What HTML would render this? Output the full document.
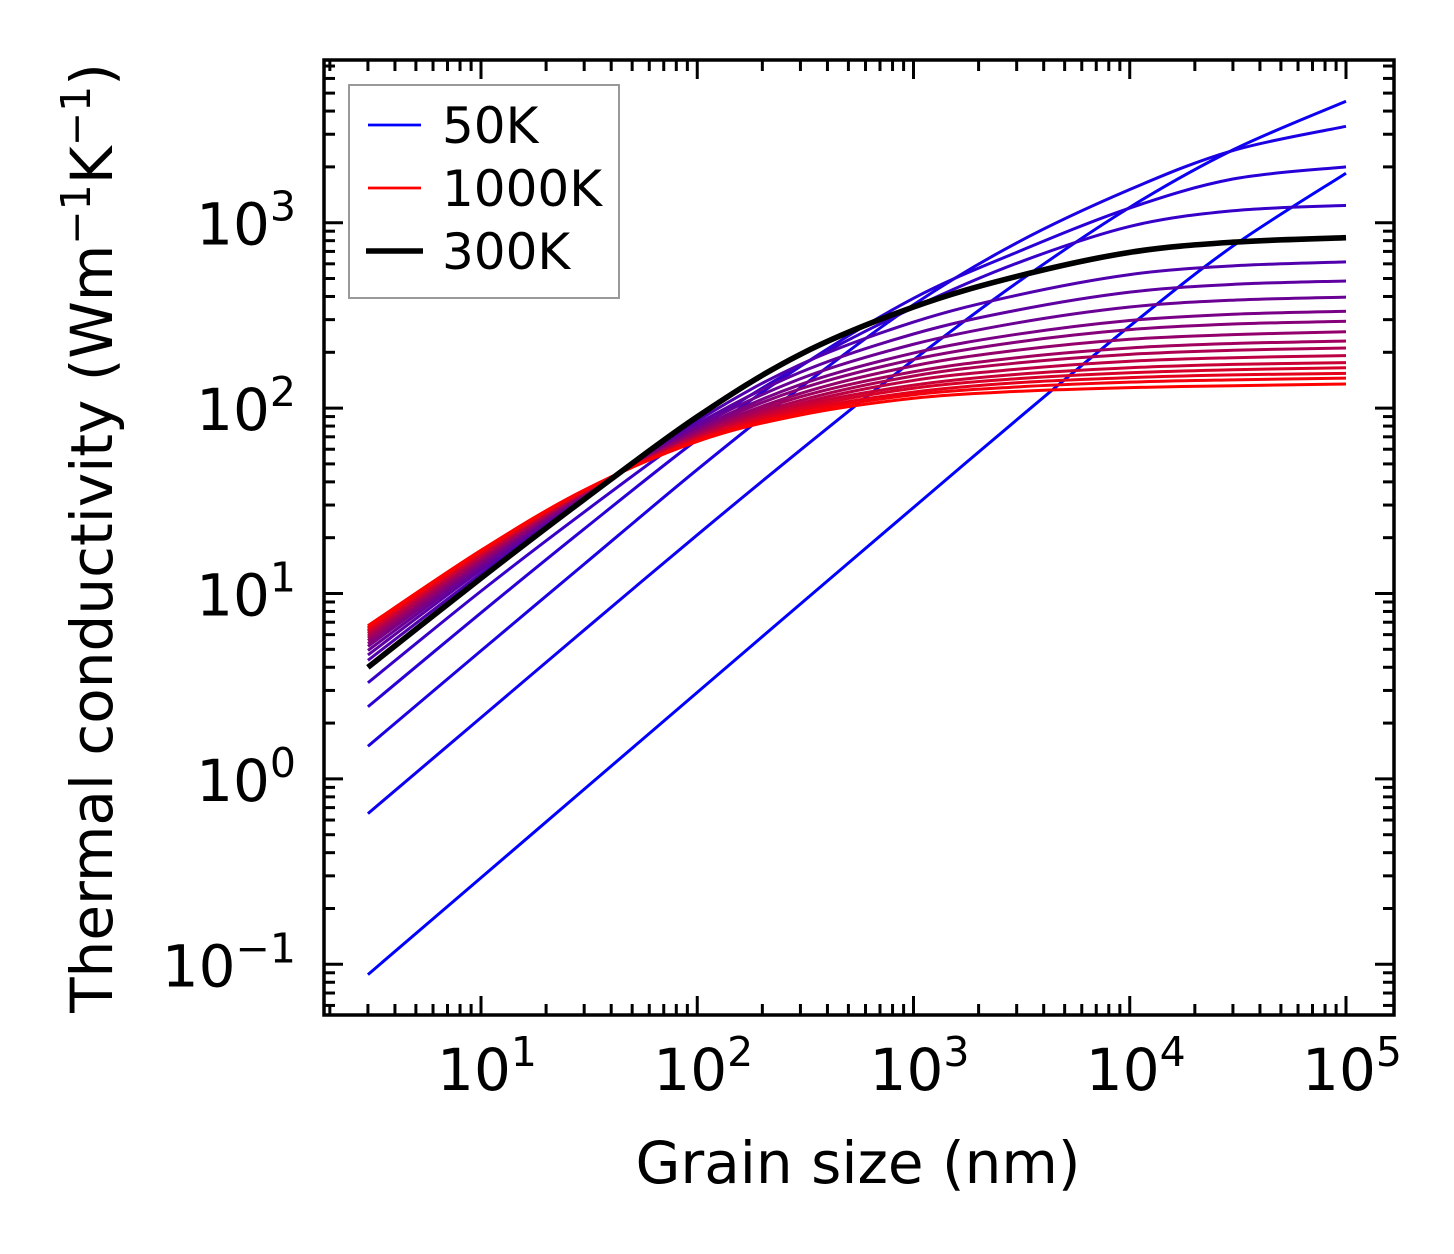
<!DOCTYPE html>
<html><head><meta charset="utf-8"><style>
html,body{margin:0;padding:0;background:#fff;}
svg{display:block;font-family:"DejaVu Sans","Liberation Sans",sans-serif;}
</style></head><body>
<svg id="chart" width="1454" height="1254" viewBox="0 0 1454 1254" xmlns="http://www.w3.org/2000/svg">
<rect x="0" y="0" width="1454" height="1254" fill="#fff"/>
<g id="curves"></g>
<g id="ticks"></g>
<rect x="324" y="60" width="1070" height="955" fill="none" stroke="#000" stroke-width="3.5"/>
<g id="ticklabels"></g>
<text x="858" y="1183" font-size="58" text-anchor="middle">Grain size (nm)</text>
<text transform="translate(112,538) rotate(-90)" font-size="58" text-anchor="middle">Thermal conductivity (Wm<tspan font-size="41" dy="-22">−1</tspan><tspan dy="22">K</tspan><tspan font-size="41" dy="-22">−1</tspan><tspan dy="22">)</tspan></text>
<g>
<rect x="349" y="85" width="270" height="213" fill="#fff" fill-opacity="0.85" stroke="#999" stroke-width="2"/>
<line x1="368" y1="125" x2="421" y2="125" stroke="#0000ff" stroke-width="2.8"/>
<text x="442" y="143" font-size="50">50K</text>
<line x1="368" y1="188" x2="421" y2="188" stroke="#ff0000" stroke-width="2.8"/>
<text x="442" y="206" font-size="50">1000K</text>
<line x1="366" y1="251" x2="423" y2="251" stroke="#000" stroke-width="5.6"/>
<text x="442" y="269" font-size="50">300K</text>
</g>
</svg>
<script>
const grainSizes = [3, 10, 30, 100, 300, 1000, 3000, 10000, 30000, 100000];
const temperatures = [50,100,150,200,250,300,350,400,450,500,550,600,650,700,750,800,850,900,950,1000];
const k50 = [0.088,0.293,0.879,2.93,8.78,29.1,86.4,277,748,1849];
const k100 = [0.65,2.14,6.35,20.7,59.4,182,473,1210,2470,4520];
const k150 = [1.5,4.91,14.4,46.6,129,361,778,1510,2450,3310];
const k200 = [2.45,7.87,22.3,67.6,168,391,692,1200,1720,2000];
const k250 = [3.3,10.3,27.5,76.7,169,348,604,955,1160,1240];
const k300 = [4.0,12.1,32.2,89.8,195,351,513,692,785,830];
const k350 = [4.36,12.8,32.8,85.3,172,291,406,525,585,615];
const k400 = [4.66,13.4,33.3,82.0,156,251,337,422,465,485];
const k450 = [4.93,13.9,33.7,79.3,144,221,288,351,382,397];
const k500 = [5.19,14.4,34.1,76.9,134,198,250,297,321,333];
const k550 = [5.37,14.8,34.4,75.3,127,183,227,265,284,294];
const k600 = [5.57,15.1,34.7,73.6,120,169,205,235,249,258];
const k650 = [5.75,15.5,34.9,72.3,115,157,187,211,223,230];
const k700 = [5.90,15.7,35.2,71.3,110,149,175,195,205,211];
const k750 = [6.07,16.0,35.3,70.1,106,141,162,179,187,192];
const k800 = [6.21,16.3,35.6,69.2,103,133,152,165,172,176];
const k850 = [6.32,16.5,35.7,68.4,99.8,128,144,155,161,165];
const k900 = [6.44,16.7,35.8,67.6,97.0,122,137,146,151,154];
const k950 = [6.56,16.9,36.0,66.8,94.6,118,130,138,142,145];
const k1000 = [6.7,17.1,36.1,66.1,91.8,113,123,129,132,135];
const seriesK = [k50,k100,k150,k200,k250,k300,k350,k400,k450,k500,k550,k600,k650,k700,k750,k800,k850,k900,k950,k1000];
const highlightT = 300;
const highlightK = k300;
const xTickExps = [1,2,3,4,5];
const yTickExps = [-1,0,1,2,3];

const NS = "http://www.w3.org/2000/svg";
const X0 = 481, XD = 216.25, Y0 = 222.7, YD = 185.4;
const L = 324, R = 1394, T = 60, B = 1015;
function xs(v){ return X0 + XD*(Math.log10(v)-1); }
function ys(v){ return Y0 - YD*(Math.log10(v)-3); }
function colorFor(t){
  const f = (t-50)/950;
  return "rgb(" + Math.round(255*f) + ",0," + Math.round(255*(1-f)) + ")";
}
function smoothPath(pts){
  let d = "M" + pts[0][0].toFixed(2) + "," + pts[0][1].toFixed(2);
  for (let i=0;i<pts.length-1;i++){
    const p0 = pts[Math.max(0,i-1)], p1 = pts[i], p2 = pts[i+1], p3 = pts[Math.min(pts.length-1,i+2)];
    const c1x = p1[0]+(p2[0]-p0[0])/6, c1y = p1[1]+(p2[1]-p0[1])/6;
    const c2x = p2[0]-(p3[0]-p1[0])/6, c2y = p2[1]-(p3[1]-p1[1])/6;
    d += " C" + c1x.toFixed(2)+","+c1y.toFixed(2)+" "+c2x.toFixed(2)+","+c2y.toFixed(2)+" "+p2[0].toFixed(2)+","+p2[1].toFixed(2);
  }
  return d;
}
const curves = document.getElementById("curves");
seriesK.forEach(function(arr, i){
  const pts = grainSizes.map(function(g, j){ return [xs(g), ys(arr[j])]; });
  const p = document.createElementNS(NS, "path");
  p.setAttribute("d", smoothPath(pts));
  p.setAttribute("fill", "none");
  p.setAttribute("stroke", colorFor(temperatures[i]));
  p.setAttribute("stroke-width", "3");
  
  
  curves.appendChild(p);
});
(function(){
  const pts = grainSizes.map(function(g, j){ return [xs(g), ys(highlightK[j])]; });
  const p = document.createElementNS(NS, "path");
  p.setAttribute("d", smoothPath(pts));
  p.setAttribute("fill", "none");
  p.setAttribute("stroke", "#000");
  p.setAttribute("stroke-width", "5.6");
  
  
  curves.appendChild(p);
})();

const ticks = document.getElementById("ticks");
function tline(x1,y1,x2,y2,name){
  const l = document.createElementNS(NS, "line");
  l.setAttribute("x1", x1); l.setAttribute("y1", y1);
  l.setAttribute("x2", x2); l.setAttribute("y2", y2);
  l.setAttribute("stroke", "#000"); l.setAttribute("stroke-width", "3");
  
  
  ticks.appendChild(l);
}
for (let e=0; e<=5; e++){
  for (let m=1; m<=9; m++){
    const v = m*Math.pow(10,e);
    const x = xs(v);
    if (x < L+1 || x > R-1) continue;
    const len = m===1 ? 19 : 11;
    tline(x, B, x, B-len, m===1 ? 'x-major-tick' : 'x-minor-tick');
    tline(x, T, x, T+len, m===1 ? 'x-major-tick-top' : 'x-minor-tick-top');
  }
}
for (let e=-2; e<=3; e++){
  for (let m=1; m<=9; m++){
    const v = m*Math.pow(10,e);
    const y = ys(v);
    if (y < T+1 || y > B-1) continue;
    const len = m===1 ? 19 : 11;
    tline(L, y, L+len, y, m===1 ? 'y-major-tick' : 'y-minor-tick');
    tline(R, y, R-len, y, m===1 ? 'y-major-tick-right' : 'y-minor-tick-right');
  }
}
const tl = document.getElementById("ticklabels");
function powLabel(x, y, exp, anchor, name){
  const t = document.createElementNS(NS, "text");
  t.setAttribute("x", x); t.setAttribute("y", y);
  t.setAttribute("font-size", "58");
  t.setAttribute("text-anchor", anchor);
  
  
  const a = document.createElementNS(NS, "tspan");
  a.textContent = "10";
  const b = document.createElementNS(NS, "tspan");
  b.setAttribute("font-size", "41");
  b.setAttribute("dy", "-24");
  b.textContent = (exp < 0 ? "\u2212" : "") + Math.abs(exp);
  t.appendChild(a); t.appendChild(b);
  tl.appendChild(t);
}
xTickExps.forEach(function(e){
  powLabel(xs(Math.pow(10,e)) + 6, 1090, e, "middle", 'x-tick-label');
});
yTickExps.forEach(function(e){
  powLabel(296, ys(Math.pow(10,e)) + 22, e, "end", 'y-tick-label');
});
</script>
</body></html>
